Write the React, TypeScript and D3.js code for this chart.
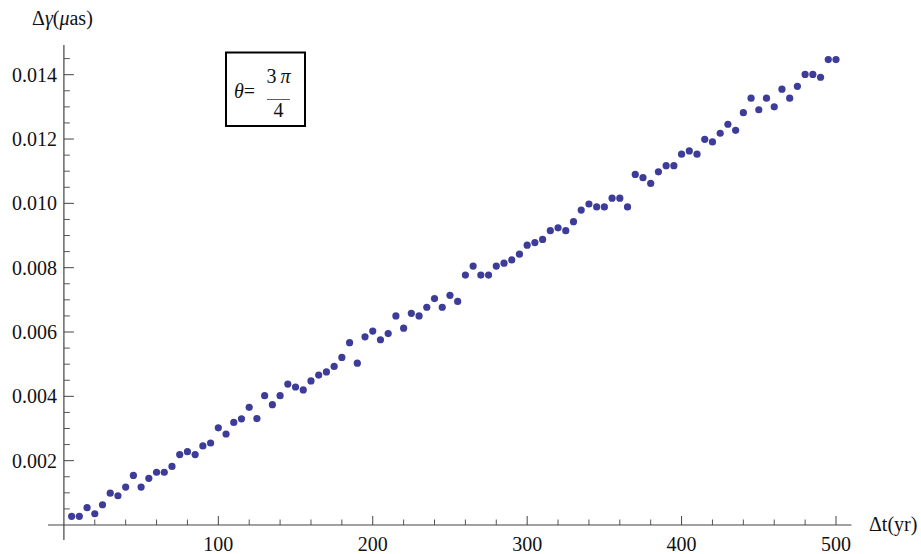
import { useEffect, useRef } from 'react';
import * as d3 from 'd3';

const [width, height] = [921, 554];
const font = "'Liberation Serif', 'Times New Roman', Times, Tinos, 'DejaVu Serif', 'Noto Serif', serif";

// Δt in years
const years = [
  5, 10, 15, 20, 25, 30, 35, 40, 45, 50, 55, 60, 65, 70, 75, 80, 85, 90, 95, 100,
  105, 110, 115, 120, 125, 130, 135, 140, 145, 150, 155, 160, 165, 170, 175, 180, 185, 190, 195, 200,
  205, 210, 215, 220, 225, 230, 235, 240, 245, 250, 255, 260, 265, 270, 275, 280, 285, 290, 295, 300,
  305, 310, 315, 320, 325, 330, 335, 340, 345, 350, 355, 360, 365, 370, 375, 380, 385, 390, 395, 400,
  405, 410, 415, 420, 425, 430, 435, 440, 445, 450, 455, 460, 465, 470, 475, 480, 485, 490, 495, 500,
];

// Δγ in μas
const deltaGamma = [
  0.00027, 0.00027, 0.00054, 0.00035, 0.00063, 0.00099, 0.00091, 0.00118, 0.00154, 0.00118,
  0.00145, 0.00164, 0.00164, 0.00182, 0.00219, 0.00228, 0.00219, 0.00246, 0.00255, 0.00302,
  0.00283, 0.00319, 0.0033, 0.00366, 0.00331, 0.00402, 0.00374, 0.00402, 0.00438, 0.00429,
  0.0042, 0.00448, 0.00466, 0.00476, 0.00493, 0.00521, 0.00567, 0.00503, 0.00585, 0.00603,
  0.00576, 0.00595, 0.0065, 0.00612, 0.00658, 0.0065, 0.00677, 0.00704, 0.00677, 0.00714,
  0.00695, 0.00777, 0.00805, 0.00777, 0.00777, 0.00805, 0.00814, 0.00824, 0.00842, 0.0087,
  0.00878, 0.00888, 0.00915, 0.00924, 0.00915, 0.00943, 0.00979, 0.00998, 0.00989, 0.00989,
  0.01016, 0.01016, 0.00989, 0.0109, 0.0108, 0.01062, 0.01098, 0.01117, 0.01117, 0.01153,
  0.01163, 0.01153, 0.01199, 0.01191, 0.01218, 0.01246, 0.01227, 0.01282, 0.01327, 0.01291,
  0.01327, 0.013, 0.01355, 0.01327, 0.01364, 0.01401, 0.01401, 0.01392, 0.01447, 0.01447,
];

const xMajor = [100, 200, 300, 400, 500];
const xMinor = [20, 40, 60, 80, 120, 140, 160, 180, 220, 240, 260, 280, 320, 340, 360, 380, 420, 440, 460, 480];
const yMajor = [0.002, 0.004, 0.006, 0.008, 0.01, 0.012, 0.014];
const yMajorLabels = ['0.002', '0.004', '0.006', '0.008', '0.010', '0.012', '0.014'];
const yMinor = [
  0.0005, 0.001, 0.0015, 0.0025, 0.003, 0.0035, 0.0045, 0.005, 0.0055, 0.0065, 0.007, 0.0075,
  0.0085, 0.009, 0.0095, 0.0105, 0.011, 0.0115, 0.0125, 0.013, 0.0135, 0.0145,
];

function App() {
  const node = useRef<SVGSVGElement>(null);
  useEffect(() => {
    if (!node.current) return;
    const svg = d3.select(node.current);
    svg.selectAll('*').remove();

    const x = d3.scaleLinear().domain([0, 500]).range([63.9, 836]);
    const y = d3.scaleLinear().domain([0, 0.014]).range([525, 74.7]);
    const axisColor = '#444';

    const txt = (sel: any) => sel.style('font-family', font).style('font-size', '20px').attr('fill', '#111');

    // axes lines
    svg.append('line')
      .attr('x1', x(-10.3)).attr('x2', x(510))
      .attr('y1', y(0)).attr('y2', y(0))
      .attr('stroke', axisColor).attr('stroke-width', 1.2);
    svg.append('line')
      .attr('x1', x(0)).attr('x2', x(0))
      .attr('y1', y(-0.00047)).attr('y2', y(0.01492))
      .attr('stroke', axisColor).attr('stroke-width', 1.2);

    // x ticks (pointing up)
    svg.selectAll('.xmaj').data(xMajor).enter().append('line')
      .attr('x1', d => x(d)).attr('x2', d => x(d))
      .attr('y1', y(0)).attr('y2', y(0) - 9)
      .attr('stroke', axisColor).attr('stroke-width', 1);
    svg.selectAll('.xmin').data(xMinor).enter().append('line')
      .attr('x1', d => x(d)).attr('x2', d => x(d))
      .attr('y1', y(0)).attr('y2', y(0) - 5.5)
      .attr('stroke', axisColor).attr('stroke-width', 0.9);
    svg.selectAll('.xlab').data(xMajor).enter().append('text')
      .attr('x', d => x(d)).attr('y', 551)
      .attr('text-anchor', 'middle')
      .call(txt)
      .text(d => d);

    // y ticks (pointing right)
    svg.selectAll('.ymaj').data(yMajor).enter().append('line')
      .attr('x1', x(0)).attr('x2', x(0) + 10)
      .attr('y1', d => y(d)).attr('y2', d => y(d))
      .attr('stroke', axisColor).attr('stroke-width', 1);
    svg.selectAll('.ymin').data(yMinor).enter().append('line')
      .attr('x1', x(0)).attr('x2', x(0) + 6)
      .attr('y1', d => y(d)).attr('y2', d => y(d))
      .attr('stroke', axisColor).attr('stroke-width', 0.9);
    svg.selectAll('.ylab').data(yMajor).enter().append('text')
      .attr('x', 57).attr('y', d => y(d) + 7)
      .attr('text-anchor', 'end')
      .call(txt)
      .text((d, i) => yMajorLabels[i]);

    // axis labels
    const yl = svg.append('text')
      .attr('x', 32).attr('y', 25)
      .call(txt);
    yl.append('tspan').text('Δ');
    yl.append('tspan').style('font-style', 'italic').text('γ');
    yl.append('tspan').text('(');
    yl.append('tspan').style('font-style', 'italic').text('μ');
    yl.append('tspan').text('as)');

    svg.append('text')
      .attr('x', 869).attr('y', 531)
      .call(txt)
      .text('Δt(yr)');

    // points
    svg.selectAll('circle')
      .data(years)
      .enter()
      .append('circle')
      .attr('cx', d => x(d))
      .attr('cy', (d, i) => y(deltaGamma[i]))
      .attr('r', 3.6)
      .attr('fill', '#3d3d99');

    // annotation box
    svg.append('rect')
      .attr('x', 226).attr('y', 52.5)
      .attr('width', 79).attr('height', 73.5)
      .attr('fill', 'white').attr('stroke', 'black').attr('stroke-width', 2);
    const th = svg.append('text')
      .attr('x', 234).attr('y', 98)
      .call(txt);
    th.append('tspan').style('font-style', 'italic').text('θ');
    th.append('tspan').text('=');
    const num = svg.append('text')
      .attr('x', 278.5).attr('y', 83)
      .attr('text-anchor', 'middle')
      .call(txt);
    num.append('tspan').text('3\u2009');
    num.append('tspan').style('font-style', 'italic').text('π');
    svg.append('line')
      .attr('x1', 267).attr('x2', 290)
      .attr('y1', 99.5).attr('y2', 99.5)
      .attr('stroke', '#333').attr('stroke-width', 0.8);
    svg.append('text')
      .attr('x', 278.5).attr('y', 117)
      .attr('text-anchor', 'middle')
      .call(txt)
      .text('4');
  }, [node]);

  return (
    <svg ref={node} width={width} height={height}
      style={{ position: 'absolute', left: 0, top: 0, background: 'white' }}></svg>
  );
}

export default App;
